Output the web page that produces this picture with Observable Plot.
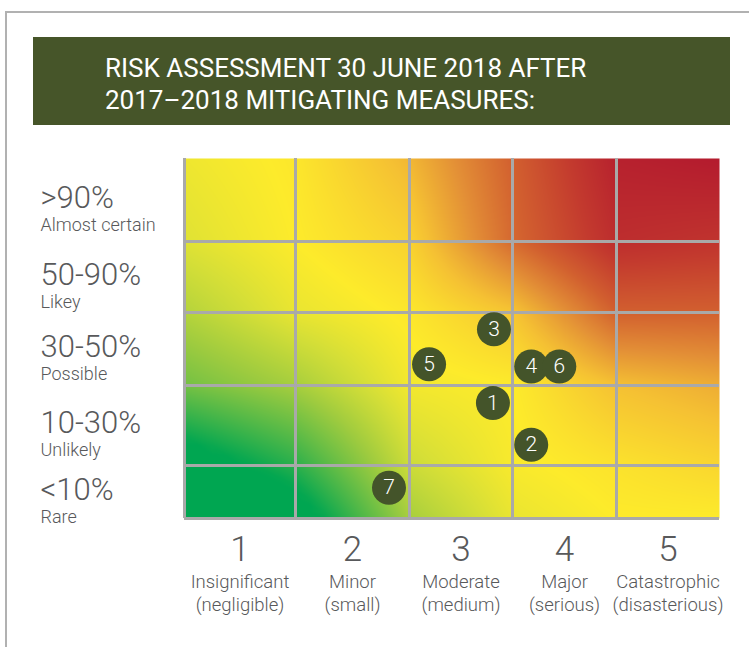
<!DOCTYPE html>
<html><head><meta charset="utf-8">
<script src="https://cdn.jsdelivr.net/npm/d3@7"></script>
<script src="https://cdn.jsdelivr.net/npm/@observablehq/plot@0.6"></script>
<style>
body{margin:0;background:#fff;}
#wrap{position:relative;width:749px;height:647px;overflow:hidden;font-family:Roboto,sans-serif;}
#chart{position:absolute;left:0;top:0;width:749px;height:647px;}
#chart svg{max-width:none;width:749px;height:647px;display:block;}
#frame{position:absolute;left:5px;top:11px;width:760px;height:660px;border-top:2px solid #b1b1b1;border-left:2px solid #b1b1b1;}
#title{position:absolute;left:33px;top:37px;width:697px;height:88px;background:#465529;color:#fff;box-sizing:border-box;padding:15px 0 0 72px;font-size:26px;line-height:32px;letter-spacing:0px;}
</style></head>
<body>
<div id="wrap">
  <div id="frame"></div>
  <div id="chart"></div>
  <div id="title">RISK ASSESSMENT 30 JUNE 2018 AFTER<br>2017–2018 MITIGATING MEASURES:</div>
</div>
<script>
// Impact categories (x)
const impactLevels = [1, 2, 3, 4, 5];
const impactNames = ["Insignificant", "Minor", "Moderate", "Major", "Catastrophic"];
const impactNotes = ["(negligible)", "(small)", "(medium)", "(serious)", "(disasterious)"];
// Likelihood categories (y), bottom to top
const likelihoodLevels = [1, 2, 3, 4, 5];
const likelihoodRanges = ["<10%", "10-30%", "30-50%", "50-90%", ">90%"];
const likelihoodNames = ["Rare", "Unlikely", "Possible", "Likey", "Almost certain"];
// Risks placed on the matrix (impact, likelihood)
const riskIds = [1, 2, 3, 4, 5, 6, 7];
const riskImpact = [3.31, 3.68, 3.32, 3.68, 2.69, 3.95, 2.32];
const riskLikelihood = [2.28, 1.76, 3.27, 2.76, 2.79, 2.76, 1.08];
// Background heat read at grid intersections, rows bottom -> top, columns left -> right
const heatRow0 = [-0.40, -0.10, 0.32, 0.46, 0.50, 0.50];
const heatRow1 = [-0.10, 0.08, 0.40, 0.49, 0.52, 0.55];
const heatRow2 = [0.22, 0.32, 0.48, 0.50, 0.60, 0.64];
const heatRow3 = [0.35, 0.46, 0.51, 0.59, 0.80, 0.80];
const heatRow4 = [0.44, 0.50, 0.56, 0.78, 0.94, 0.92];
const heatRow5 = [0.47, 0.51, 0.62, 0.80, 0.98, 1.00];
const heatStops = [0, 0.15, 0.30, 0.42, 0.50, 0.60, 0.70, 0.80, 0.90, 1];
const heatColors = ["#00a651", "#4fb848", "#9dcb3f", "#d6df37", "#fdeb2b", "#f5c133", "#e38f36", "#d2602f", "#c33a2e", "#b41b2e"];

const heatGrid = [heatRow0, heatRow1, heatRow2, heatRow3, heatRow4, heatRow5];
const risks = riskIds.map((id, i) => ({id, impact: riskImpact[i], likelihood: riskLikelihood[i]}));
const xEdges = [impactLevels[0] - 0.5, ...impactLevels.map(d => d + 0.5)];
const yEdges = [likelihoodLevels[0] - 0.5, ...likelihoodLevels.map(d => d + 0.5)];

// bilinear blend of the read heat grid (background shading only)
function heatAt(x, y) {
  const u = Math.max(0, Math.min(4.9999, x - 0.5));
  const v = Math.max(0, Math.min(4.9999, y - 0.5));
  const i = Math.floor(u), j = Math.floor(v);
  const fu = u - i, fv = v - j;
  const a = heatGrid[j][i], b = heatGrid[j][i + 1], c = heatGrid[j + 1][i], d = heatGrid[j + 1][i + 1];
  const h = a * (1 - fu) * (1 - fv) + b * fu * (1 - fv) + c * (1 - fu) * fv + d * fu * fv;
  return Math.max(0, Math.min(1, h));
}
const shade = [];
for (let a = 0; a <= 40; a++) for (let b = 0; b <= 40; b++) {
  const x = 0.5 + a / 8, y = 0.5 + b / 8;
  shade.push({x, y, h: heatAt(x, y)});
}

const font = "Roboto, sans-serif";
const grey = "#58595b";
const gridColor = "#a9a9a9";

const plot = Plot.plot({
  width: 749,
  height: 647,
  x: {type: "linear", domain: xEdges, range: [184, 295, 409, 512, 616, 719], axis: null},
  y: {type: "linear", domain: yEdges, range: [518, 465, 385, 312, 241, 158], axis: null},
  color: {type: "linear", domain: heatStops, range: heatColors, interpolate: "rgb", clamp: true},
  style: {fontFamily: font, background: "transparent"},
  marks: [
    Plot.raster(shade, {x: "x", y: "y", fill: "h", interpolate: "barycentric", x1: xEdges[0], x2: xEdges[5], y1: yEdges[0], y2: yEdges[5]}),
    Plot.ruleX(xEdges.slice(0, 5), {y1: yEdges[0], y2: yEdges[5], stroke: gridColor, strokeWidth: 3}),
    Plot.ruleY(yEdges.slice(0, 5), {x1: xEdges[0], x2: xEdges[5], stroke: gridColor, strokeWidth: 3}),
    Plot.dot(risks, {x: "impact", y: "likelihood", r: 17, fill: "#44542a"}),
    Plot.text(risks, {x: "impact", y: "likelihood", text: "id", fill: "white", fontSize: 21, fontWeight: 300, fontFamily: font}),
    Plot.text(impactLevels, {x: d => d, y: yEdges[0], dy: 31, text: d => String(d), fontSize: 35, fontWeight: 300, fill: grey, fontFamily: font}),
    Plot.text(impactLevels, {x: d => d, y: yEdges[0], dy: 64, text: (d, i) => impactNames[i], fontSize: 18.5, fontWeight: 300, fill: grey, fontFamily: font, style: "letter-spacing:1.1px"}),
    Plot.text(impactLevels, {x: d => d, y: yEdges[0], dy: 87, text: (d, i) => impactNotes[i], fontSize: 18.5, fontWeight: 300, fill: grey, fontFamily: font, style: "letter-spacing:1.1px"}),
    Plot.text(likelihoodLevels, {x: xEdges[0], y: d => d, dx: -144, dy: -2, textAnchor: "start", text: (d, i) => likelihoodRanges[i], fontSize: 31, fontWeight: 300, fill: grey, fontFamily: font, style: "letter-spacing:3px"}),
    Plot.text(likelihoodLevels, {x: xEdges[0], y: d => d, dx: -144, dy: 25, textAnchor: "start", text: (d, i) => likelihoodNames[i], fontSize: 18, fontWeight: 300, fill: grey, fontFamily: font, style: "letter-spacing:1px"})
  ]
});
document.getElementById("chart").appendChild(plot);
</script>
</body></html>
